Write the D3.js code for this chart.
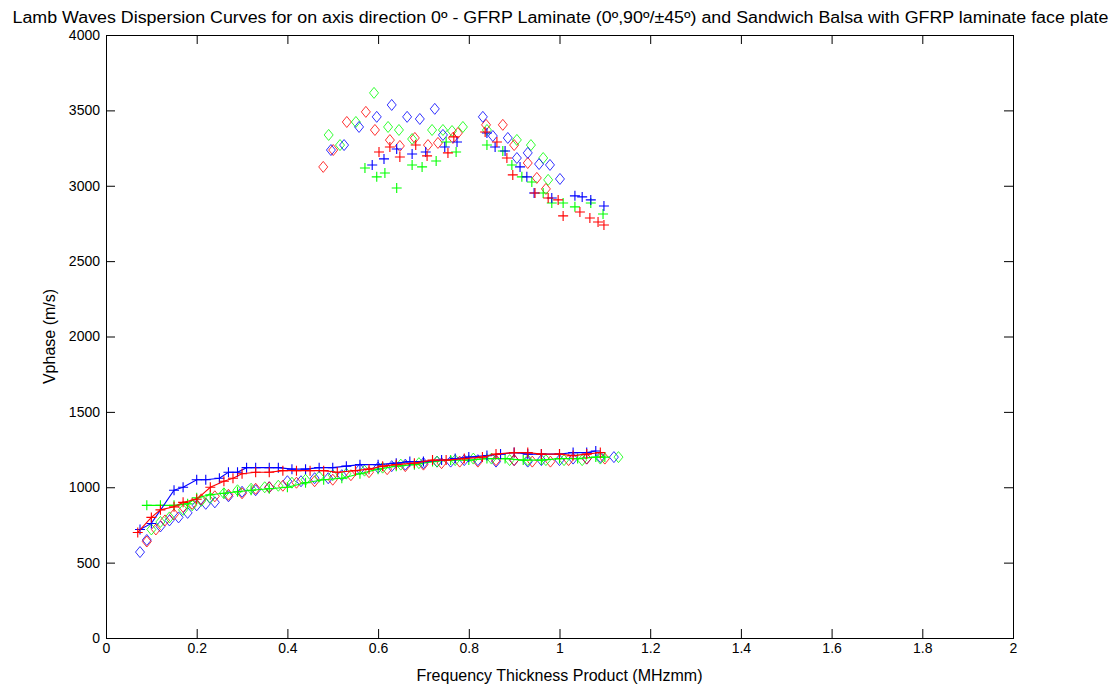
<!DOCTYPE html>
<html lang="en">
<head>
    <meta charset="UTF-8">
    <title>Lamb Waves Dispersion Curves</title>
    <script src="https://d3js.org/d3.v7.min.js"></script>
</head>
<body>
<div id='chart'>
    <svg></svg>
</div>
</body>

<style>
    body { margin: 0; background: #fff; }
    text {
        font-family: "Liberation Sans", Arial, sans-serif;
        fill: #000;
    }
    .axis path, .axis line { stroke: #000; stroke-width: 1px; }
    .axis text { font-size: 14px; }
</style>

<script>
    // x ticks and y ticks
    const xTicks = [0, 0.2, 0.4, 0.6, 0.8, 1, 1.2, 1.4, 1.6, 1.8, 2];
    const yTicks = [0, 500, 1000, 1500, 2000, 2500, 3000, 3500, 4000];

    // lower mode (A0-like), '+' markers joined by a line
    const lowBluePlus = [[0.075,720],[0.10,760],[0.15,980],[0.17,1000],[0.20,1050],[0.22,1050],[0.25,1060],[0.27,1100],[0.29,1100],[0.31,1130],[0.33,1130],[0.36,1130],[0.38,1130],[0.41,1120],[0.44,1120],[0.47,1130],[0.50,1130],[0.53,1140],[0.56,1150],[0.60,1150],[0.64,1160],[0.67,1170],[0.70,1170],[0.74,1180],[0.77,1190],[0.80,1200],[0.84,1210],[0.87,1220],[0.90,1230],[0.93,1220],[0.96,1220],[1.00,1220],[1.03,1230],[1.06,1230],[1.08,1240]];
    const lowRedPlus = [[0.07,700],[0.10,800],[0.12,850],[0.15,870],[0.17,900],[0.20,920],[0.23,1000],[0.26,1040],[0.28,1060],[0.30,1090],[0.33,1100],[0.36,1100],[0.39,1110],[0.42,1110],[0.45,1110],[0.48,1110],[0.51,1100],[0.55,1110],[0.58,1120],[0.61,1140],[0.64,1150],[0.68,1160],[0.72,1180],[0.75,1180],[0.79,1190],[0.83,1200],[0.86,1220],[0.90,1230],[0.93,1230],[0.96,1220],[1.00,1220],[1.03,1210],[1.06,1220],[1.09,1230]];
    const lowGreenPlus = [[0.09,880],[0.12,880],[0.15,880],[0.18,890],[0.20,930],[0.23,950],[0.26,960],[0.29,970],[0.32,980],[0.36,990],[0.40,1000],[0.44,1030],[0.48,1050],[0.52,1060],[0.56,1090],[0.60,1120],[0.64,1140],[0.68,1150],[0.72,1170],[0.76,1180],[0.80,1180],[0.84,1190],[0.88,1190],[0.92,1180],[0.96,1180],[1.00,1190],[1.04,1190],[1.08,1200],[1.10,1200]];

    // lower mode, diamond markers
    const lowBlueDia = [[0.075,570],[0.09,650],[0.12,740],[0.14,780],[0.16,800],[0.18,830],[0.20,880],[0.22,890],[0.24,900],[0.27,940],[0.30,970],[0.33,980],[0.36,1000],[0.40,1040],[0.43,1040],[0.46,1060],[0.49,1060],[0.52,1080],[0.56,1120],[0.60,1130],[0.63,1140],[0.66,1150],[0.70,1160],[0.73,1170],[0.76,1170],[0.79,1180],[0.82,1180],[0.86,1170],[0.90,1180],[0.93,1170],[0.96,1180],[1.00,1180],[1.03,1190],[1.06,1190],[1.09,1200],[1.12,1200]];
    const lowRedDia = [[0.09,640],[0.11,720],[0.13,780],[0.15,820],[0.17,870],[0.19,890],[0.21,920],[0.24,940],[0.27,950],[0.30,960],[0.33,990],[0.36,1000],[0.39,1010],[0.42,1030],[0.46,1040],[0.50,1050],[0.54,1080],[0.58,1100],[0.62,1120],[0.66,1140],[0.70,1150],[0.74,1160],[0.78,1170],[0.82,1170],[0.86,1180],[0.90,1180],[0.94,1170],[0.98,1170],[1.02,1180],[1.06,1190],[1.10,1190]];
    const lowGreenDia = [[0.10,720],[0.12,770],[0.14,800],[0.17,850],[0.19,880],[0.21,910],[0.23,930],[0.26,960],[0.29,980],[0.32,990],[0.35,1000],[0.38,1010],[0.41,1030],[0.44,1050],[0.47,1070],[0.50,1080],[0.53,1090],[0.57,1110],[0.61,1130],[0.65,1150],[0.69,1160],[0.73,1170],[0.77,1180],[0.81,1190],[0.85,1190],[0.89,1180],[0.93,1180],[0.97,1180],[1.01,1180],[1.05,1180],[1.09,1190],[1.13,1200]];

    // upper mode, '+' markers
    const upRedPlus = [[0.602,3224],[0.626,3257],[0.648,3191],[0.683,3270],[0.708,3198],[0.754,3218],[0.767,3324],[0.836,3357],[0.862,3290],[0.884,3184],[0.897,3072],[0.946,2952],[0.975,2919],[0.997,2906],[1.008,2800],[1.045,2826],[1.067,2786],[1.085,2760],[1.098,2740]];
    const upBluePlus = [[0.587,3138],[0.613,3178],[0.641,3244],[0.675,3211],[0.705,3224],[0.747,3257],[0.774,3290],[0.840,3350],[0.858,3257],[0.880,3231],[0.913,3125],[0.928,3059],[0.944,2952],[0.983,2919],[1.034,2933],[1.050,2926],[1.069,2906],[1.098,2866]];
    const upGreenPlus = [[0.571,3118],[0.597,3059],[0.615,3085],[0.641,2985],[0.675,3138],[0.697,3125],[0.728,3164],[0.750,3290],[0.772,3224],[0.840,3270],[0.875,3231],[0.895,3138],[0.917,3059],[0.939,3025],[0.964,2952],[0.983,2886],[1.008,2886],[1.034,2860],[1.069,2886],[1.096,2813]];

    // upper mode, diamond markers
    const upRedDia = [[0.479,3125],[0.501,3237],[0.531,3423],[0.573,3490],[0.593,3370],[0.626,3303],[0.648,3264],[0.681,3317],[0.710,3270],[0.732,3284],[0.765,3317],[0.776,3350],[0.838,3404],[0.875,3404],[0.900,3270],[0.930,3151],[0.950,3052],[0.970,2979]];
    const upGreenDia = [[0.491,3337],[0.516,3270],[0.551,3423],[0.591,3616],[0.622,3390],[0.646,3370],[0.675,3310],[0.719,3370],[0.743,3370],[0.763,3363],[0.787,3390],[0.840,3370],[0.906,3304],[0.937,3270],[0.964,3184],[0.975,3039]];
    const upBlueDia = [[0.496,3237],[0.525,3270],[0.558,3390],[0.597,3457],[0.630,3536],[0.664,3457],[0.692,3443],[0.725,3510],[0.743,3337],[0.831,3457],[0.853,3330],[0.886,3317],[0.906,3184],[0.930,3218],[0.955,3144],[0.979,3138],[1.001,3045]];

    const width = 1117;
    const height = 690;
    const margin = {top: 35, right: 104, bottom: 52, left: 106};

    const svg = d3.select('svg')
        .attr('width', width)
        .attr('height', height)
        .style('display', 'block');

    const x = d3.scaleLinear().domain([0, 2]).range([margin.left, width - margin.right]);
    const y = d3.scaleLinear().domain([0, 4000]).range([height - margin.bottom, margin.top]);

    const fmt = d => String(+d.toFixed(1));

    // box axes, ticks pointing inward
    svg.append('g').attr('class', 'axis')
        .attr('transform', `translate(0,${y(0)})`)
        .call(d3.axisBottom(x).tickValues(xTicks).tickFormat(fmt).tickSizeInner(-9).tickSizeOuter(0).tickPadding(5));
    svg.append('g').attr('class', 'axis')
        .attr('transform', `translate(0,${y(4000)})`)
        .call(d3.axisTop(x).tickValues(xTicks).tickFormat('').tickSizeInner(-9).tickSizeOuter(0));
    svg.append('g').attr('class', 'axis')
        .attr('transform', `translate(${x(0)},0)`)
        .call(d3.axisLeft(y).tickValues(yTicks).tickFormat(d => String(d)).tickSizeInner(-9).tickSizeOuter(0).tickPadding(6));
    svg.append('g').attr('class', 'axis')
        .attr('transform', `translate(${x(2)},0)`)
        .call(d3.axisRight(y).tickValues(yTicks).tickFormat('').tickSizeInner(-9).tickSizeOuter(0));

    svg.selectAll('.axis .domain').attr('shape-rendering', 'crispEdges');

    const plot = svg.append('g');

    const line = d3.line().x(d => x(d[0])).y(d => y(d[1]));

    function plusMarks(data, color) {
        plot.append('g').selectAll('path')
            .data(data)
            .join('path')
            .attr('d', d => `M${x(d[0]) - 5},${y(d[1])}h10M${x(d[0])},${y(d[1]) - 5}v10`)
            .attr('stroke', color)
            .attr('stroke-width', 1.1)
            .attr('fill', 'none');
    }

    function diamondMarks(data, color) {
        plot.append('g').selectAll('path')
            .data(data)
            .join('path')
            .attr('d', d => {
                const cx = x(d[0]), cy = y(d[1]);
                return `M${cx},${cy - 5.5}L${cx + 4.5},${cy}L${cx},${cy + 5.5}L${cx - 4.5},${cy}Z`;
            })
            .attr('stroke', color)
            .attr('stroke-width', 1)
            .attr('stroke-opacity', 0.8)
            .attr('fill', 'none');
    }

    function plusLine(data, color) {
        plot.append('path')
            .datum(data)
            .attr('d', line)
            .attr('stroke', color)
            .attr('stroke-width', 1.1)
            .attr('fill', 'none');
        plusMarks(data, color);
    }

    diamondMarks(lowBlueDia, '#0000ff');
    diamondMarks(lowRedDia, '#ff0000');
    diamondMarks(lowGreenDia, '#00ff00');
    plusLine(lowGreenPlus, '#00ff00');
    plusLine(lowBluePlus, '#0000ff');
    plusLine(lowRedPlus, '#ff0000');

    diamondMarks(upRedDia, '#ff0000');
    diamondMarks(upGreenDia, '#00ff00');
    diamondMarks(upBlueDia, '#0000ff');
    plusMarks(upGreenPlus, '#00ff00');
    plusMarks(upBluePlus, '#0000ff');
    plusMarks(upRedPlus, '#ff0000');

    // title and axis labels
    svg.append('text')
        .attr('x', width / 2 + 2)
        .attr('y', 23)
        .attr('text-anchor', 'middle')
        .attr('textLength', 1096)
        .attr('lengthAdjust', 'spacingAndGlyphs')
        .style('font-size', '16px')
        .text('Lamb Waves Dispersion Curves for on axis direction 0º - GFRP Laminate (0º,90º/±45º) and Sandwich Balsa with GFRP laminate face plate');

    svg.append('text')
        .attr('x', (x(0) + x(2)) / 2)
        .attr('y', 681)
        .attr('text-anchor', 'middle')
        .style('font-size', '16px')
        .text('Frequency Thickness Product (MHzmm)');

    svg.append('text')
        .attr('transform', `translate(55,${(y(0) + y(4000)) / 2}) rotate(-90)`)
        .attr('text-anchor', 'middle')
        .style('font-size', '16px')
        .text('Vphase (m/s)');
</script>
</html>
